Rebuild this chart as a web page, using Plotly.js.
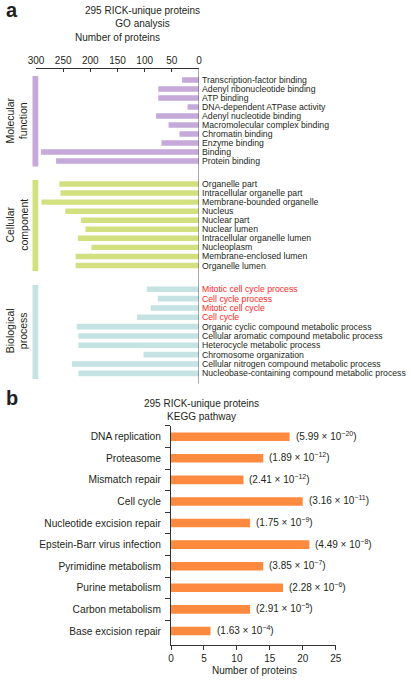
<!DOCTYPE html>
<html>
<head>
<meta charset="utf-8">
<script src="https://cdn.plot.ly/plotly-3.0.1.min.js"></script>
<style>html,body{margin:0;padding:0;background:#fff;}#chart{width:411px;height:681px;}</style>
</head>
<body>
<div id="chart"></div>
<script>
// ---------- DATA ----------
const mfCats = ['Transcription-factor binding','Adenyl ribonucleotide binding','ATP binding','DNA-dependent ATPase activity','Adenyl nucleotide binding','Macromolecular complex binding','Chromatin binding','Enzyme binding','Binding','Protein binding'];
const mfValues = [31, 75, 75, 21, 79, 56, 36, 69, 291, 263];

const ccCats = ['Organelle part','Intracellular organelle part','Membrane-bounded organelle','Nucleus','Nuclear part','Nuclear lumen','Intracellular organelle lumen','Nucleoplasm','Membrane-enclosed lumen','Organelle lumen'];
const ccValues = [257, 255, 290, 246, 217, 209, 223, 198, 227, 227];

const bpCats = ['Mitotic cell cycle process','Cell cycle process','Mitotic cell cycle','Cell cycle','Organic cyclic compound metabolic process','Cellular aromatic compound metabolic process','Heterocycle metabolic process','Chromosome organization','Cellular nitrogen compound metabolic process','Nucleobase-containing compound metabolic process'];
const bpValues = [96, 76, 89, 114, 225, 222, 222, 102, 234, 222];
const bpHighlighted = ['Mitotic cell cycle process','Cell cycle process','Mitotic cell cycle','Cell cycle'];

const groupNames = ['Molecular<br>function','Cellular<br>component','Biological<br>process'];
const goTicks = [300, 250, 200, 150, 100, 50, 0];

const keggCats = ['DNA replication','Proteasome','Mismatch repair','Cell cycle','Nucleotide excision repair','Epstein-Barr virus infection','Pyrimidine metabolism','Purine metabolism','Carbon metabolism','Base excision repair'];
const keggCounts = [18, 14, 11, 20, 12, 21, 14, 17, 12, 6];
const keggPMantissa = ['5.99','1.89','2.41','3.16','1.75','4.49','3.85','2.28','2.91','1.63'];
const keggPExponent = [-20, -12, -12, -11, -9, -8, -7, -6, -5, -4];
const keggTicks = [0, 5, 10, 15, 20, 25];

// ---------- STYLE / LAYOUT HELPERS ----------
const W = 411, H = 681;
const px = x => x / W;
const py = y => 1 - y / H;
const FONT = 'Liberation Sans, Arial, sans-serif';
const TXT = '#231f20';
const colMF = '#c4a9d9', colCC = '#d3e07f', colBP = '#c6e3e3', colKEGG = '#fd8a3e';

const groupDomains = [[75.5,165.5],[179.5,270],[284.6,378]];
const groupColors = [colMF, colCC, colBP];
const groupCats = [mfCats, ccCats, bpCats];
const groupVals = [mfValues, ccValues, bpValues];

const traces = [];
const layout = {
  width: W, height: H,
  margin: {l:0, r:0, t:0, b:0},
  paper_bgcolor: '#fff', plot_bgcolor: 'rgba(0,0,0,0)',
  showlegend: false,
  font: {family: FONT, color: TXT, size: 10},
  shapes: [], annotations: [],
  xaxis: {
    domain: [px(36), px(199)], range: [300, 0], side: 'top',
    anchor: 'free', position: py(67.7),
    tickmode: 'array', tickvals: goTicks,
    ticks: 'inside', ticklen: 3, tickcolor: '#333',
    showline: true, linecolor: '#333', linewidth: 1,
    showgrid: false, zeroline: false,
    tickfont: {size: 10, family: FONT, color: TXT}
  },
  xaxis2: {
    domain: [px(171), px(335.7)], range: [0, 25],
    anchor: 'y4',
    tickmode: 'array', tickvals: keggTicks,
    ticks: 'outside', ticklen: 4, tickcolor: '#333',
    showline: true, linecolor: '#333', linewidth: 1,
    showgrid: false, zeroline: false,
    tickfont: {size: 10, family: FONT, color: TXT}
  }
};

groupCats.forEach((cats, g) => {
  const yName = g === 0 ? 'y' : 'y' + (g + 1);
  const axName = g === 0 ? 'yaxis' : 'yaxis' + (g + 1);
  traces.push({
    type: 'bar', orientation: 'h',
    x: groupVals[g], y: cats,
    xaxis: 'x', yaxis: yName,
    marker: {color: groupColors[g], line: {width: 0}},
    width: 0.6, hoverinfo: 'none'
  });
  const ticktext = cats.map(c => (g === 2 && bpHighlighted.includes(c)) ? '<span style="color:#ff1f26">' + c + '</span>' : c);
  layout[axName] = {
    domain: [py(groupDomains[g][1]), py(groupDomains[g][0])],
    type: 'category', autorange: 'reversed',
    anchor: 'x', side: 'right',
    tickmode: 'array', tickvals: cats, ticktext: ticktext,
    ticks: '', showline: false, showgrid: false, zeroline: false,
    ticklabelstandoff: 2,
    tickfont: {size: 8.7, family: FONT, color: TXT}
  };
  layout.shapes.push({
    type: 'rect', xref: 'paper', yref: 'paper',
    x0: px(32.5), x1: px(38.3),
    y0: py(groupDomains[g][1] + 1), y1: py(groupDomains[g][0] + 0.5),
    fillcolor: groupColors[g], line: {width: 0}
  });
  layout.annotations.push({
    xref: 'paper', yref: 'paper',
    x: px(17), y: py((groupDomains[g][0] + groupDomains[g][1]) / 2),
    text: groupNames[g], showarrow: false, textangle: -90,
    xanchor: 'center', yanchor: 'middle',
    font: {size: 10.5, family: FONT, color: TXT}
  });
});

layout.shapes.push({
  type: 'line', xref: 'x', yref: 'paper',
  x0: 0, x1: 0, y0: py(67.7), y1: py(383.5),
  line: {color: '#555', width: 1}
});

traces.push({
  type: 'bar', orientation: 'h',
  x: keggCounts, y: keggCats,
  xaxis: 'x2', yaxis: 'y4',
  marker: {color: colKEGG, line: {width: 0}},
  width: 0.4, hoverinfo: 'none'
});
layout.yaxis4 = {
  domain: [py(645), py(425.9)],
  type: 'category', range: [9.65, -0.5], autorange: false,
  anchor: 'x2', side: 'left',
  ticks: 'outside', tickson: 'boundaries', ticklen: 5, tickcolor: '#333',
  showline: true, linecolor: '#333', linewidth: 1,
  showgrid: false, zeroline: false,
  ticklabelstandoff: 7,
  tickfont: {size: 10.2, family: FONT, color: TXT}
};
keggCats.forEach((c, i) => {
  layout.annotations.push({
    xref: 'x2', yref: 'y4', x: keggCounts[i], y: c,
    text: '(' + keggPMantissa[i] + ' × 10<sup>\u2212' + Math.abs(keggPExponent[i]) + '</sup>)',
    showarrow: false, xanchor: 'left', yanchor: 'middle', xshift: 4, yshift: 1,
    font: {size: 10, family: FONT, color: TXT}
  });
});

const addText = (text, x, y, size, extra) => layout.annotations.push(Object.assign({
  xref: 'paper', yref: 'paper', x: px(x), y: py(y), text: text, showarrow: false,
  xanchor: 'center', yanchor: 'middle', font: {size: size, family: FONT, color: TXT}
}, extra || {}));

addText('<b>a</b>', 4, 10, 20, {xanchor: 'left'});
addText('<b>b</b>', 4, 398, 20, {xanchor: 'left'});
addText('295 RICK-unique proteins<br>GO analysis', 142, 17.5, 10);
addText('Number of proteins', 118, 38, 10);
addText('295 RICK-unique proteins<br>KEGG pathway', 201, 409.5, 10);
addText('Number of proteins', 254, 670, 10);

Plotly.newPlot('chart', traces, layout, {displayModeBar: false, staticPlot: true});
</script>
</body>
</html>
